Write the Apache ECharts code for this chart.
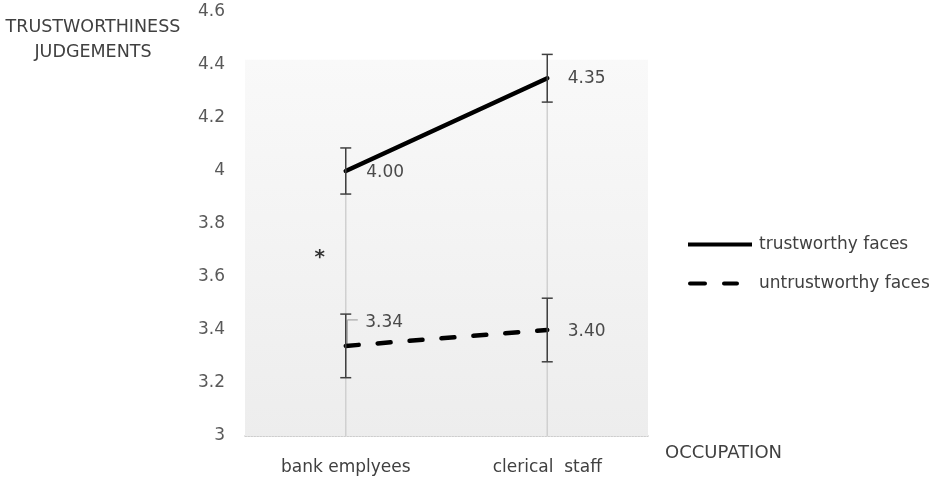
<!DOCTYPE html>
<html><head><meta charset="utf-8">
<script src="https://cdn.jsdelivr.net/npm/echarts@6/dist/echarts.min.js"></script>
<style>html,body{margin:0;padding:0;background:#fff}#c{width:935px;height:478px}</style>
</head><body><div id="c"></div>
<script>
var categories = ['bank emplyees', 'clerical  staff'];
var trustworthy = [4.00, 4.35];
var trustworthyErr = [0.087, 0.09];
var untrustworthy = [3.34, 3.40];
var untrustworthyErr = [0.12, 0.12];
var yTicks = [3, 3.2, 3.4, 3.6, 3.8, 4, 4.2, 4.4, 4.6];
var backgroundTop = 4.42;
var asteriskValue = 3.68;

var chart = echarts.init(document.getElementById('c'));

function errData(vals, errs) {
  return vals.map(function (v, i) { return [i, v - errs[i], v + errs[i]]; });
}
var dropData = trustworthy.map(function (v, i) { return [i, Math.max(v, untrustworthy[i])]; });

var labelBase = { show: true, color: '#4a4a4a', opacity: 1, fontSize: 17, fontFamily: 'DejaVu Sans', position: 'right' };
var tLabels = [ { distance: 20, offset: [0, 2] }, { distance: 20, offset: [0, 0] } ];
var uLabels = [ { distance: 19, offset: [0, -23] }, { distance: 20, offset: [0, 2] } ];
function labelData(vals, cfg) {
  return vals.map(function (v, i) {
    return { value: [i, v], label: Object.assign({}, labelBase, cfg[i], { formatter: v.toFixed(2) }) };
  });
}

chart.setOption({
  animation: false,
  grid: { left: 245, right: 287, top: 12, bottom: 42 },
  xAxis: {
    type: 'category', data: categories, boundaryGap: true,
    axisLine: { show: true, lineStyle: { color: '#bdbdbd', width: 1.5, type: 'dotted' } },
    axisTick: { show: false },
    axisLabel: { color: '#404040', fontSize: 17, fontFamily: 'DejaVu Sans', margin: 23 },
    splitLine: { show: false }
  },
  yAxis: {
    type: 'value', min: 3, max: 4.6, interval: 0.2,
    axisLine: { show: false }, axisTick: { show: false }, splitLine: { show: false },
    axisLabel: { color: '#595959', fontSize: 17, fontFamily: 'DejaVu Sans', margin: 20,
      formatter: function (v) { var r = Math.round(v * 10) / 10; return yTicks.indexOf(r) >= 0 ? String(r) : ''; } }
  },
  legend: {
    orient: 'vertical', left: 683, top: 231, itemGap: 22, itemWidth: 64, itemHeight: 4,
    textStyle: { color: '#404040', fontSize: 17, fontFamily: 'DejaVu Sans', padding: [0, 0, 0, 2] },
    itemStyle: { color: '#000' },
    data: [
      { name: 'trustworthy faces', icon: 'path://M0,0 L64,0 L64,4 L0,4 Z' },
      { name: 'untrustworthy faces', icon: 'path://M2,0 L17,0 A2,2 0 0 1 17,4 L2,4 A2,2 0 0 1 2,0 Z M36,0 L49,0 A2,2 0 0 1 49,4 L36,4 A2,2 0 0 1 36,0 Z M64,2' }
    ]
  },
  graphic: [
    { type: 'text', x: 93, y: 27, style: { text: 'TRUSTWORTHINESS', fill: '#404040', font: '17.5px "DejaVu Sans"', textAlign: 'center', textVerticalAlign: 'middle' } },
    { type: 'text', x: 93, y: 52, style: { text: 'JUDGEMENTS', fill: '#404040', font: '17.5px "DejaVu Sans"', textAlign: 'center', textVerticalAlign: 'middle' } },
    { type: 'text', x: 665, y: 453, style: { text: 'OCCUPATION', fill: '#404040', font: '18px "DejaVu Sans"', textAlign: 'left', textVerticalAlign: 'middle' } }
  ],
  series: [
    {
      name: 'bg', type: 'line', data: [], silent: true,
      markArea: { silent: true, itemStyle: { color: new echarts.graphic.LinearGradient(0, 0, 0, 1, [{ offset: 0, color: '#f9f9f9' }, { offset: 1, color: '#ededed' }]) },
        data: [[{ yAxis: backgroundTop }, { yAxis: 3 }]] }
    },
    {
      name: 'drop', type: 'custom', silent: true, z: 1,
      renderItem: function (params, api) {
        var top = api.coord([api.value(0), api.value(1)]);
        var bot = api.coord([api.value(0), 3]);
        return { type: 'line', shape: { x1: top[0], y1: top[1], x2: bot[0], y2: bot[1] }, style: { stroke: '#d0d0d0', lineWidth: 1.5 } };
      },
      data: dropData
    },
    {
      name: 'trustworthy faces', type: 'line', data: trustworthy,
      symbol: 'none', z: 5,
      lineStyle: { color: '#000', width: 4.5, cap: 'round' }, itemStyle: { color: '#000' }
    },
    {
      name: 'untrustworthy faces', type: 'line', data: untrustworthy,
      symbol: 'none', z: 5,
      lineStyle: { color: '#000', width: 4.5, type: [13, 19], cap: 'round' }, itemStyle: { color: '#000' }
    },
    {
      name: 'err', type: 'custom', silent: true, z: 6,
      renderItem: function (params, api) {
        var lo = api.coord([api.value(0), api.value(1)]);
        var hi = api.coord([api.value(0), api.value(2)]);
        var w = 5.5, st = { stroke: '#404040', lineWidth: 1.5 };
        return { type: 'group', children: [
          { type: 'line', shape: { x1: lo[0], y1: lo[1], x2: hi[0], y2: hi[1] }, style: st },
          { type: 'line', shape: { x1: lo[0] - w, y1: lo[1], x2: lo[0] + w, y2: lo[1] }, style: st },
          { type: 'line', shape: { x1: hi[0] - w, y1: hi[1], x2: hi[0] + w, y2: hi[1] }, style: st }
        ] };
      },
      data: errData(trustworthy, trustworthyErr).concat(errData(untrustworthy, untrustworthyErr))
    },
    {
      name: 'leader', type: 'custom', silent: true, z: 4,
      renderItem: function (params, api) {
        var p = api.coord([api.value(0), api.value(1)]);
        var st = { stroke: '#a6a6a6', lineWidth: 1.2 };
        return { type: 'group', children: [
          { type: 'line', shape: { x1: p[0] + 1.5, y1: p[1], x2: p[0] + 1.5, y2: p[1] - 26 }, style: st },
          { type: 'line', shape: { x1: p[0] + 1.5, y1: p[1] - 26, x2: p[0] + 12, y2: p[1] - 26 }, style: st }
        ] };
      },
      data: [[0, untrustworthy[0]]]
    },
    {
      name: 'tLabels', type: 'scatter', silent: true, symbolSize: 1, z: 7,
      itemStyle: { color: 'rgba(0,0,0,0)' },
      data: labelData(trustworthy, tLabels)
    },
    {
      name: 'uLabels', type: 'scatter', silent: true, symbolSize: 1, z: 7,
      itemStyle: { color: 'rgba(0,0,0,0)' },
      data: labelData(untrustworthy, uLabels)
    },
    {
      name: 'asterisk', type: 'scatter', silent: true, symbolSize: 1, z: 7,
      itemStyle: { color: 'rgba(0,0,0,0)' },
      data: [[0, asteriskValue]],
      label: { show: true, formatter: '*', color: '#000', fontSize: 20, fontFamily: 'DejaVu Sans', fontWeight: 'bold', offset: [-26, 2], position: 'inside' }
    }
  ]
});
</script></body></html>
